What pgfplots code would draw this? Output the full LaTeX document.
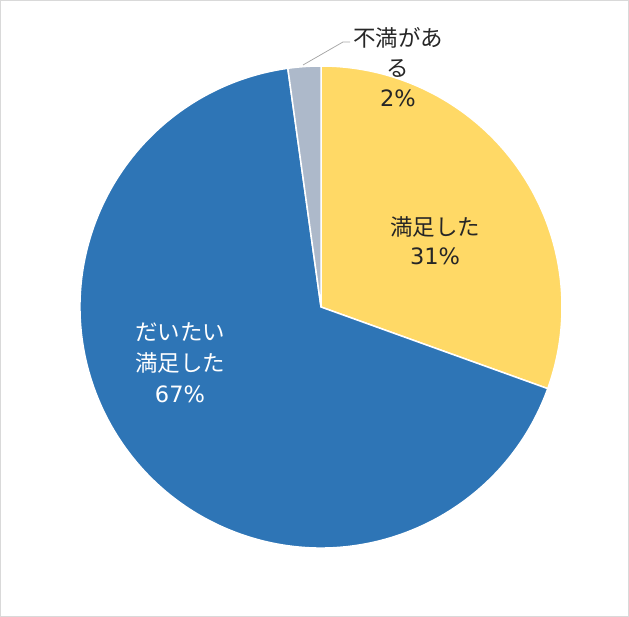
\documentclass[border=0pt]{standalone}
\usepackage{pgfplots}
\usepackage{pgfplotstable}
\pgfplotsset{compat=1.18}
\usepackage{fontspec}
\setmainfont{Noto Sans CJK JP}
\newfontfamily\numfont{DejaVu Sans}

\definecolor{pieyellow}{HTML}{FFD966}
\definecolor{pieblue}{HTML}{2E75B6}
\definecolor{piegray}{HTML}{ADB9CA}
\definecolor{txtdark}{HTML}{262626}

% shares in percent, clockwise from the top
\pgfplotstableread{
name share
manzoku 30.5
daitai 67.3
fuman 2.2
}\piedata

\begin{document}
\begin{tikzpicture}
    \pgfplotstablegetelem{0}{share}\of\piedata \pgfmathsetmacro\sA{\pgfplotsretval}
    \pgfplotstablegetelem{1}{share}\of\piedata \pgfmathsetmacro\sB{\pgfplotsretval}
    \pgfmathsetmacro\aOne{90-3.6*\sA}
    \pgfmathsetmacro\aTwo{\aOne-3.6*\sB}
    \begin{axis}[
        width=629bp, height=617bp,
        scale only axis,
        xmin=0, xmax=629,
        ymin=0, ymax=617,
        hide axis,
        clip=false
    ]
    % frame
    \draw[draw=black!15, line width=1bp] (axis cs:0.5,0.5) rectangle (axis cs:628.5,616.5);

    %-- slices
    \fill[pieyellow, draw=white, line width=1.5bp] (axis cs:321,310) -- ++(90:241bp)
        arc[start angle=90, end angle=\aOne, radius=241bp] -- cycle;
    \fill[pieblue, draw=white, line width=1.5bp] (axis cs:321,310) -- ++(\aOne:241bp)
        arc[start angle=\aOne, end angle=\aTwo, radius=241bp] -- cycle;
    \fill[piegray, draw=white, line width=1.5bp] (axis cs:321,310) -- ++(\aTwo:241bp)
        arc[start angle=\aTwo, end angle=-270, radius=241bp] -- cycle;

    %-- labels
    \node[align=center, text=txtdark, font=\fontsize{22.5bp}{29bp}\selectfont]
        at (axis cs:435,376) {満足した\\{\numfont 31\%}};
    \node[align=center, text=white, font=\fontsize{22.5bp}{31bp}\selectfont]
        at (axis cs:180,254) {だいたい\\満足した\\{\numfont 67\%}};
    \node[align=center, text=txtdark, font=\fontsize{22.5bp}{30bp}\selectfont]
        at (axis cs:398,550) {不満があ\\る\\{\numfont 2\%}};
    \draw[black!35, line width=0.75bp] (axis cs:303,552) -- (axis cs:343,575) -- (axis cs:350,575);
    \end{axis}
\end{tikzpicture}
\end{document}
